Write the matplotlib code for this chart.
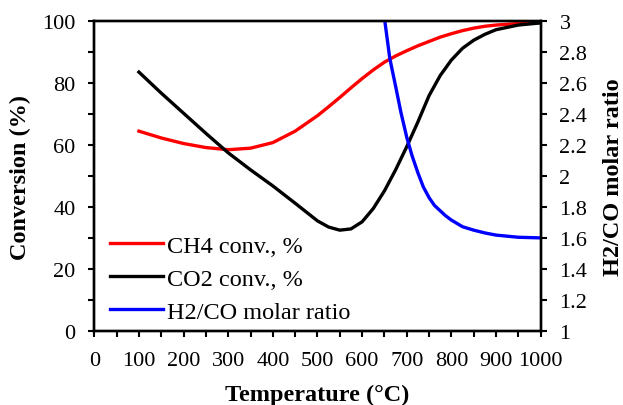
"""Conversion and H2/CO ratio versus temperature."""

import matplotlib

matplotlib.use("Agg")
import matplotlib.pyplot as plt
from matplotlib.ticker import MultipleLocator

# values
temp = [100, 150, 200, 250, 300, 350, 400, 450, 500, 525, 550, 575,
        600, 625, 650, 675, 700, 725, 750, 775, 800, 825, 850, 875,
        900, 950, 1000]
ch4_conv = [64.5, 62.3, 60.5, 59.2, 58.5, 59.0, 60.8, 64.5, 69.5, 72.4, 75.4, 78.5,
            81.5, 84.3, 86.8, 88.8, 90.5, 92.1, 93.5, 94.9, 96.0, 97.0, 97.8, 98.4,
            98.8, 99.3, 99.6]
co2_conv = [83.6, 76.8, 70.3, 63.8, 57.5, 52.0, 46.8, 41.2, 35.5, 33.5, 32.5, 32.9,
            35.2, 39.5, 45.2, 52.0, 59.5, 67.5, 76.0, 82.5, 87.5, 91.3, 93.9, 95.8,
            97.3, 98.8, 99.5]

ratio_temp = [640, 650, 662, 675, 687, 700, 712, 725, 737, 750, 762, 775,
              787, 800, 825, 850, 875, 900, 950, 1000]
h2_co = [3.25, 3.02, 2.76, 2.58, 2.41, 2.25, 2.13, 2.02, 1.93, 1.86, 1.81, 1.775,
         1.743, 1.715, 1.672, 1.65, 1.632, 1.618, 1.604, 1.60]

labels = ["CH4 conv., %", "CO2 conv., %", "H2/CO molar ratio"]

plt.rcParams["font.family"] = ["Liberation Serif", "DejaVu Serif"]

fig = plt.figure(figsize=(6.23, 4.06), dpi=100)
ax = fig.add_axes([0.1513, 0.183, 0.7166, 0.762])
ax2 = ax.twinx()

l1, = ax.plot(temp, ch4_conv, color="#ff0000", linewidth=2.4, label=labels[0])
l2, = ax.plot(temp, co2_conv, color="#000000", linewidth=2.4, label=labels[1])
l3, = ax2.plot(ratio_temp, h2_co, color="#0000ff", linewidth=2.4, label=labels[2])

ax.set_xlim(0, 1000)
ax.set_ylim(0, 100)
ax2.set_ylim(1, 3)
ax.xaxis.set_major_locator(MultipleLocator(100))
ax.xaxis.set_minor_locator(MultipleLocator(50))
ax.yaxis.set_major_locator(MultipleLocator(20))
ax.yaxis.set_minor_locator(MultipleLocator(10))
ax2.yaxis.set_major_locator(MultipleLocator(0.2))
ax2.yaxis.set_major_formatter(plt.FuncFormatter(lambda v, p: f"{v:g}"))

for a in (ax, ax2):
    for s in a.spines.values():
        s.set_linewidth(1.7)
    a.tick_params(which="major", direction="out", length=4.5, width=1.5,
                  labelsize=16, pad=9)
    a.tick_params(which="minor", direction="out", length=4.5, width=1.5)
ax.tick_params(axis="x", pad=10)

ax.set_xlabel("Temperature (°C)", fontweight="bold", fontsize=17.5, labelpad=10)
ax.set_ylabel("Conversion (%)", fontweight="bold", fontsize=17.5, labelpad=8)
ax2.set_ylabel("H2/CO molar ratio", fontweight="bold", fontsize=17.5, labelpad=11)

leg = ax.legend(handles=[l1, l2, l3], loc="lower left", frameon=False,
                handlelength=2.2, handletextpad=0.16, labelspacing=0.46,
                borderaxespad=0, borderpad=0, bbox_to_anchor=(0.035, 0.025),
                fontsize=17.5)

fig.savefig("out.png", dpi=100)
